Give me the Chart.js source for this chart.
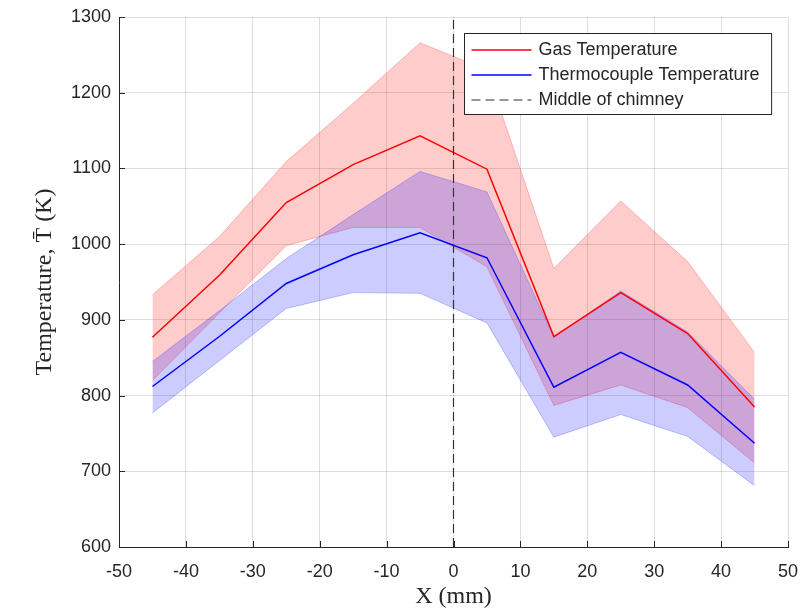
<!DOCTYPE html>
<html>
<head>
<meta charset="utf-8">
<title>Gas and thermocouple temperature across the chimney</title>
<script src="https://cdn.jsdelivr.net/npm/chart.js@4.4.1/dist/chart.umd.min.js"></script>
<style>
  html, body { margin: 0; padding: 0; background: #fff; }
  #wrap { width: 801px; height: 609px; }
</style>
</head>
<body>
<div id="wrap"><canvas id="tempChart" width="801" height="609"></canvas></div>
<script>
// radial positions (mm)
const xPos = [-45, -35, -25, -15, -5, 5, 15, 25, 35, 45];

// gas temperature: mean and spread (K)
const gasMean  = [877, 959, 1055, 1105, 1143, 1099, 878, 936, 882, 785];
const gasUpper = [933, 1010, 1109, 1186, 1266, 1230, 968, 1057, 977, 857];
const gasLower = [820, 909, 998, 1022, 1022, 970, 787, 814, 784, 711];

// thermocouple temperature: mean and spread (K)
const tcMean  = [812, 878, 948, 986, 1015, 982, 811, 857, 814, 737];
const tcUpper = [845, 912, 981, 1039, 1096, 1069, 877, 938, 884, 795];
const tcLower = [777, 846, 915, 936, 935, 896, 745, 775, 746, 681];

// axis limits and chimney centre
const xMin = -50, xMax = 50, xStep = 10;
const yMin = 600, yMax = 1300, yStep = 100;
const chimneyX = 0;

const axisColor = '#262626';
const sans = '"Liberation Sans", Arial, sans-serif';
const serif = '"Liberation Serif", "Times New Roman", serif';

function pts(ys) {
    return xPos.map((x, i) => ({ x: x, y: ys[i] }));
}

// MATLAB style ticks pointing into the axes
const innerTicks = {
    id: 'innerTicks',
    afterDatasetsDraw(chart) {
        const { ctx, chartArea, scales } = chart;
        ctx.save();
        ctx.strokeStyle = axisColor;
        ctx.lineWidth = 1;
        ctx.beginPath();
        scales.x.ticks.forEach(t => {
            const px = Math.round(scales.x.getPixelForValue(t.value)) + 0.5;
            ctx.moveTo(px, chartArea.bottom);
            ctx.lineTo(px, chartArea.bottom - 6);
        });
        scales.y.ticks.forEach(t => {
            const py = Math.round(scales.y.getPixelForValue(t.value)) + 0.5;
            ctx.moveTo(chartArea.left, py);
            ctx.lineTo(chartArea.left + 6, py);
        });
        ctx.stroke();
        ctx.restore();
    }
};

// boxed legend in the upper right corner of the plot
const boxLegend = {
    id: 'boxLegend',
    afterDraw(chart) {
        const { ctx, chartArea } = chart;
        const items = chart.data.datasets.filter(d => d.inLegend);
        ctx.save();
        ctx.font = '18px ' + sans;
        const textW = Math.max(...items.map(d => ctx.measureText(d.label).width));
        const sample = 60, gap = 7, rowH = 25;
        const w = gap + sample + gap + textW + 12;
        const h = items.length * rowH + 6;
        const right = chartArea.right - 17;
        const x0 = Math.round(right - w) + 0.5;
        const y0 = Math.round(chartArea.top + 16) + 0.5;
        ctx.fillStyle = '#fff';
        ctx.fillRect(x0, y0, w, h);
        ctx.strokeStyle = axisColor;
        ctx.lineWidth = 1;
        ctx.strokeRect(x0, y0, w, h);
        items.forEach((d, i) => {
            const cy = y0 + 4 + rowH * i + rowH / 2;
            ctx.beginPath();
            ctx.strokeStyle = d.borderColor;
            ctx.lineWidth = d.borderWidth;
            ctx.setLineDash(d.borderDash || []);
            ctx.moveTo(x0 + gap, cy);
            ctx.lineTo(x0 + gap + sample, cy);
            ctx.stroke();
            ctx.setLineDash([]);
            ctx.fillStyle = axisColor;
            ctx.textBaseline = 'middle';
            ctx.fillText(d.label, x0 + gap + sample + gap, cy);
        });
        ctx.restore();
    }
};

const ctx = document.getElementById('tempChart').getContext('2d');
new Chart(ctx, {
    type: 'line',
    data: {
        datasets: [
            {
                label: 'Gas Temperature', inLegend: true, data: pts(gasMean),
                borderColor: '#ff0000', borderWidth: 1.5, pointRadius: 0, fill: false, order: 1
            },
            {
                label: 'Thermocouple Temperature', inLegend: true, data: pts(tcMean),
                borderColor: '#0000ff', borderWidth: 1.5, pointRadius: 0, fill: false, order: 1
            },
            {
                label: 'Middle of chimney', inLegend: true,
                data: [{ x: chimneyX, y: yMin }, { x: chimneyX, y: yMax }],
                borderColor: '#333333', borderWidth: 1.2, borderDash: [9, 5], pointRadius: 0, fill: false, order: 0
            },
            {
                label: 'gas upper', data: pts(gasUpper),
                borderColor: 'rgba(255,0,0,0.22)', borderWidth: 1, pointRadius: 0,
                backgroundColor: 'rgba(255,0,0,0.2)', fill: '+1', order: 3
            },
            {
                label: 'gas lower', data: pts(gasLower),
                borderColor: 'rgba(255,0,0,0.22)', borderWidth: 1, pointRadius: 0, fill: false, order: 3
            },
            {
                label: 'tc upper', data: pts(tcUpper),
                borderColor: 'rgba(0,0,255,0.22)', borderWidth: 1, pointRadius: 0,
                backgroundColor: 'rgba(0,0,255,0.2)', fill: '+1', order: 2
            },
            {
                label: 'tc lower', data: pts(tcLower),
                borderColor: 'rgba(0,0,255,0.22)', borderWidth: 1, pointRadius: 0, fill: false, order: 2
            }
        ]
    },
    options: {
        responsive: false,
        animation: false,
        layout: { padding: { top: 17, right: 13, left: 0, bottom: 0 } },
        elements: { line: { tension: 0 } },
        plugins: {
            legend: { display: false },
            tooltip: { enabled: false }
        },
        scales: {
            x: {
                type: 'linear',
                min: xMin, max: xMax,
                afterFit: s => { s.height = 62; s.paddingLeft = 0; s.paddingRight = 0; },
                ticks: {
                    stepSize: xStep, color: axisColor, font: { family: sans, size: 18 },
                    padding: 14, maxRotation: 0, callback: v => String(v)
                },
                grid: { color: 'rgba(0,0,0,0.13)', drawTicks: false, tickLength: 0 },
                border: { display: true, color: axisColor, width: 1 },
                title: {
                    display: true, text: 'X (mm)', color: axisColor,
                    font: { family: serif, size: 24, lineHeight: 1 }, padding: { top: 0, bottom: 0 }
                }
            },
            y: {
                min: yMin, max: yMax,
                afterFit: s => { s.width = 119; s.paddingTop = 0; s.paddingBottom = 0; },
                ticks: {
                    stepSize: yStep, color: axisColor, font: { family: sans, size: 18 },
                    padding: 8, callback: v => String(v)
                },
                grid: { color: 'rgba(0,0,0,0.13)', drawTicks: false, tickLength: 0 },
                border: { display: true, color: axisColor, width: 1 },
                title: {
                    display: true, text: 'Temperature, T\u0304 (K)', color: axisColor,
                    font: { family: serif, size: 24, lineHeight: 1 }, padding: { top: 33, bottom: 0 }
                }
            }
        }
    },
    plugins: [innerTicks, boxLegend]
});
</script>
</body>
</html>
